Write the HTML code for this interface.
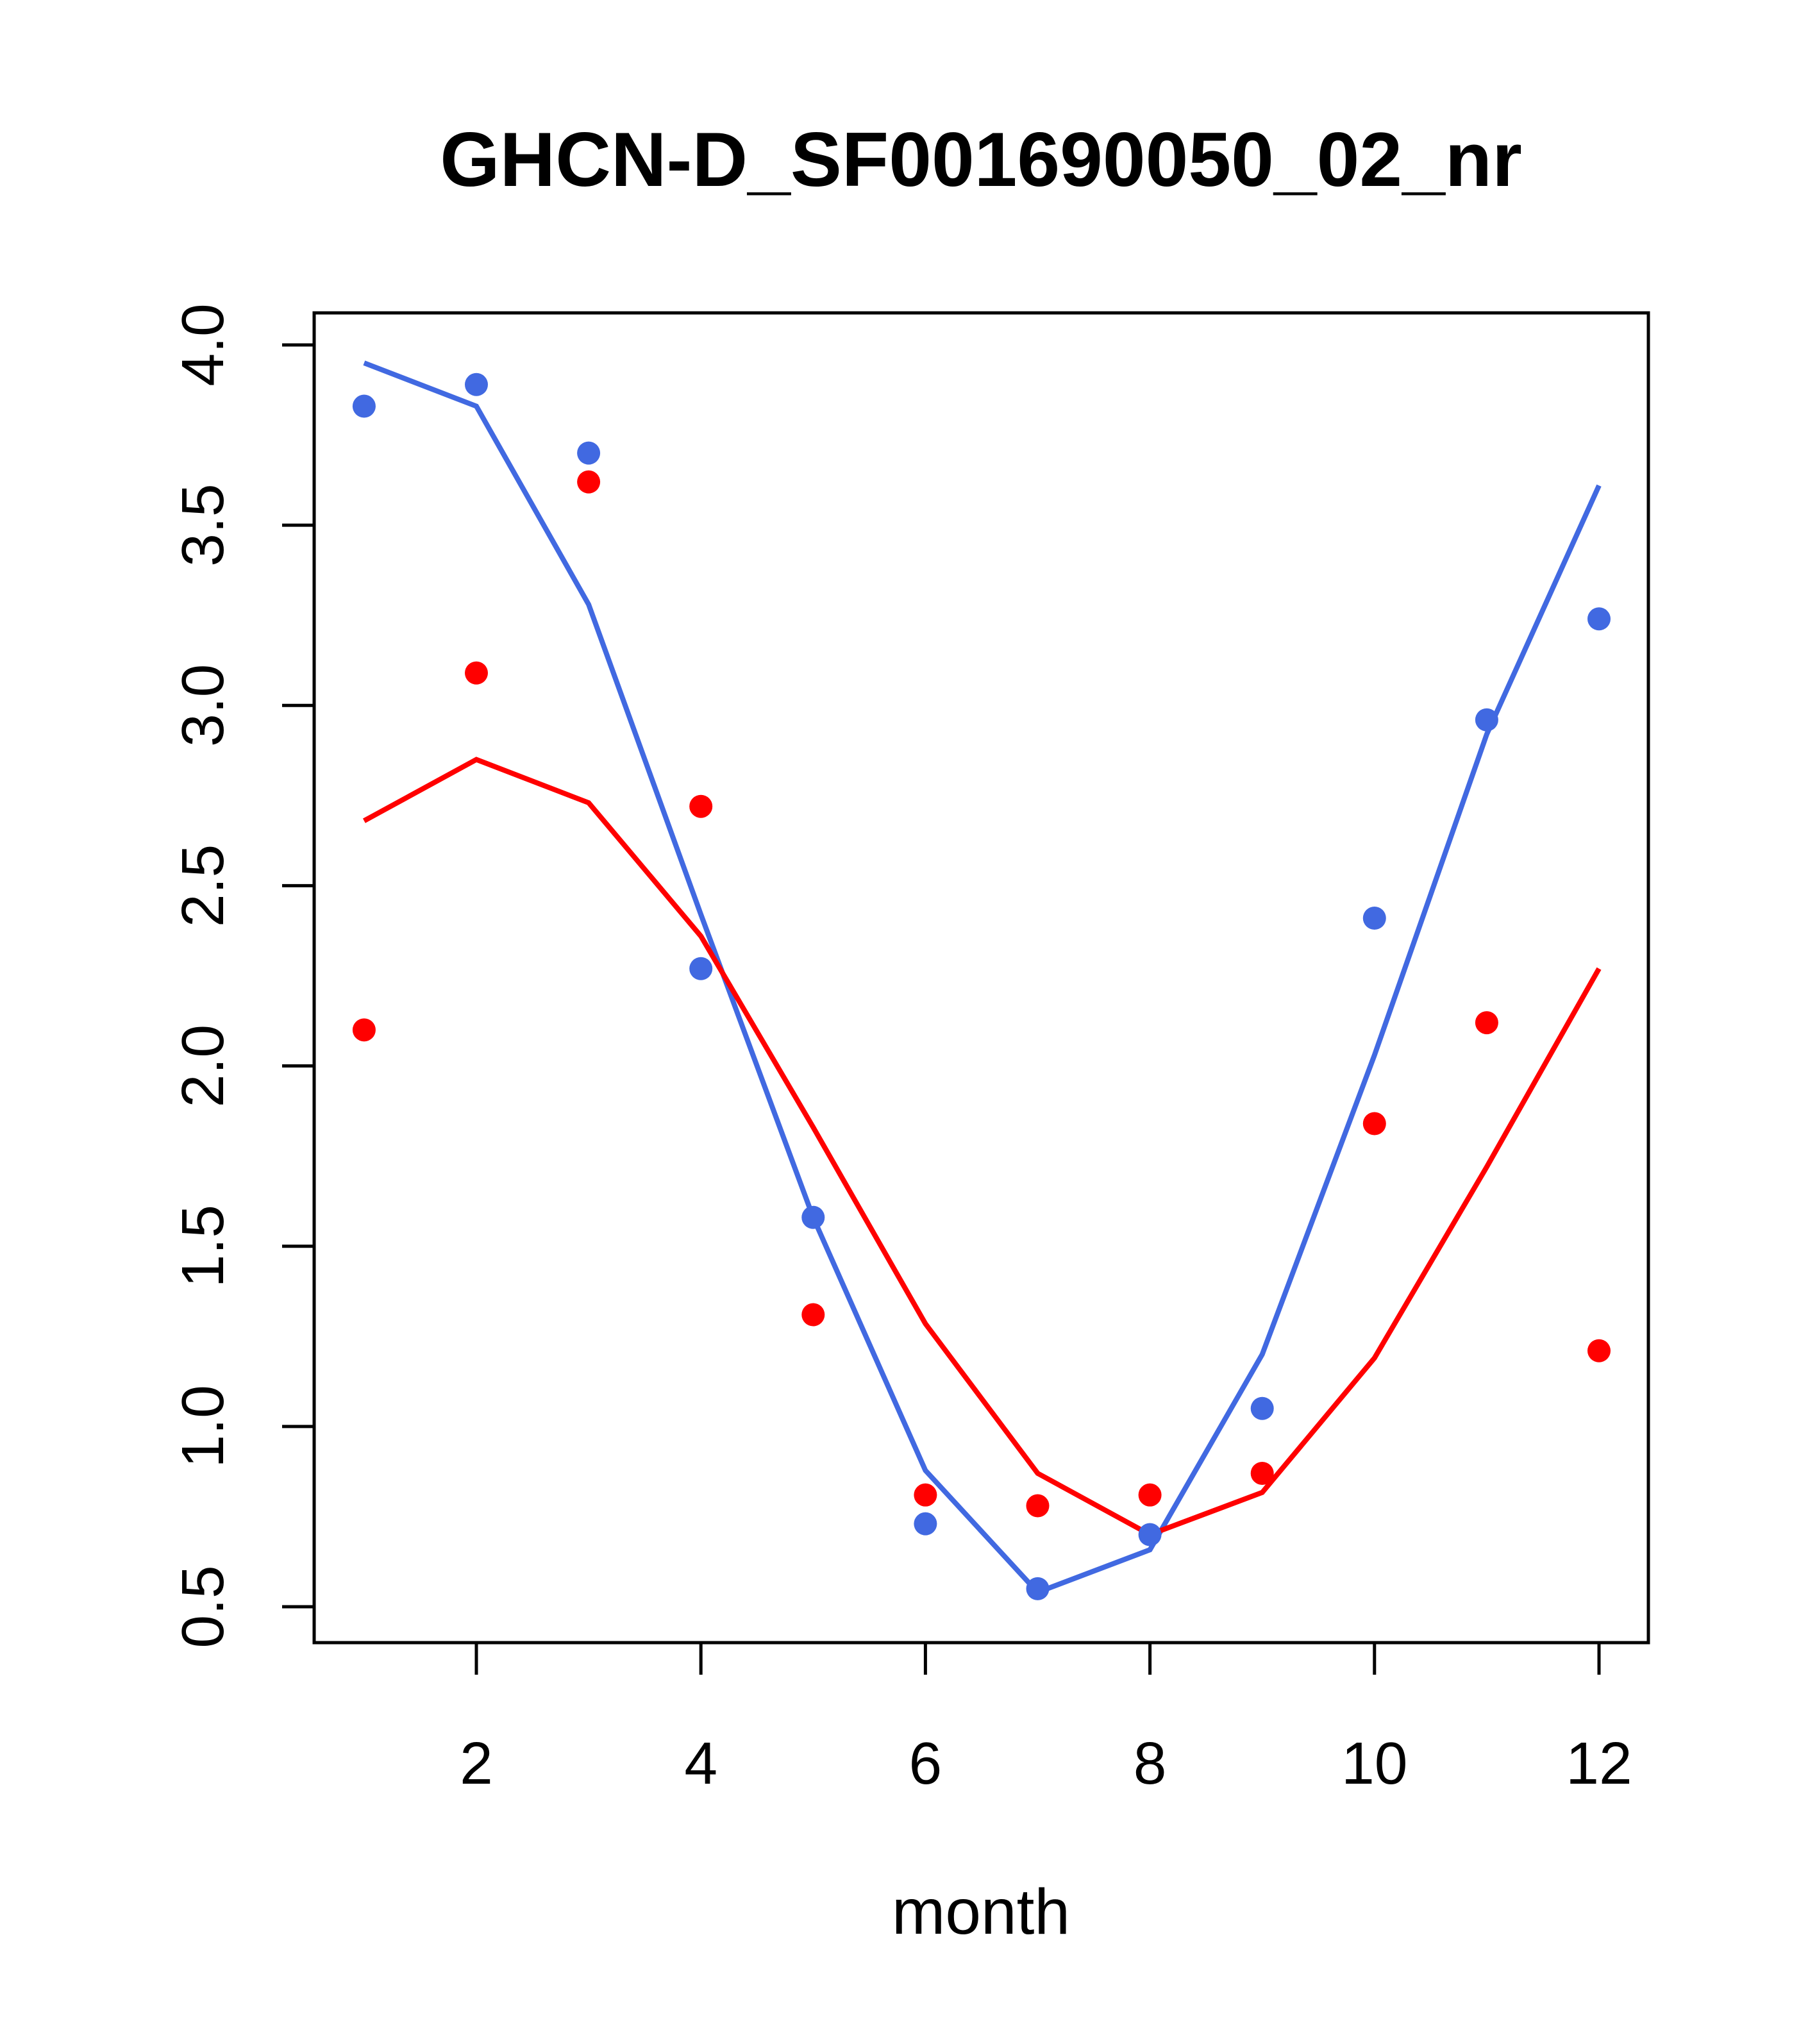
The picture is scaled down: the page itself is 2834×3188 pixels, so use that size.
<!DOCTYPE html>
<html><head><meta charset="utf-8"><style>html,body{margin:0;padding:0;background:#fff}svg{display:block}</style></head>
<body>
<svg id="chart" width="2834" height="3188" xmlns="http://www.w3.org/2000/svg" font-family="Liberation Sans, sans-serif">
<rect width="2834" height="3188" fill="#fff"/>
<text x="1530" y="290" font-size="120" font-weight="bold" text-anchor="middle">GHCN-D_SF001690050_02_nr</text>
<rect x="490" y="488" width="2081" height="2074" fill="none" stroke="#000" stroke-width="5"/>
<text x="1530" y="3016" font-size="100" text-anchor="middle">month</text>
<g id="axes"></g>
<g id="marks"></g>
</svg>
<script>
const months=[1,2,3,4,5,6,7,8,9,10,11,12];
const bluePoints=[3.83,3.89,3.70,2.27,1.58,0.73,0.55,0.70,1.05,2.41,2.96,3.24];
const redPoints=[2.10,3.09,3.62,2.72,1.31,0.81,0.78,0.81,0.87,1.84,2.12,1.21];
const blueLine=[3.95,3.83,3.28,2.42,1.58,0.878,0.54,0.658,1.20,2.03,2.92,3.61];
const redLine=[2.68,2.85,2.73,2.36,1.83,1.285,0.87,0.70,0.817,1.19,1.72,2.27];
const xTicks=[2,4,6,8,10,12];
const yTicks=["0.5","1.0","1.5","2.0","2.5","3.0","3.5","4.0"];
const NS="http://www.w3.org/2000/svg";
function X(v){return 743+(v-2)*175.1;}
function Y(v){return 2506-(v-0.5)*562.3;}
function mk(t,a,p){const e=document.createElementNS(NS,t);for(const k in a)e.setAttribute(k,a[k]);p.appendChild(e);return e;}
const axes=document.getElementById('axes'),marks=document.getElementById('marks');
xTicks.forEach(v=>{
 const l=mk('line',{x1:X(v),x2:X(v),y1:2562,y2:2612,stroke:'#000','stroke-width':5},axes);
 
 
 const t=mk('text',{x:X(v),y:2782,'font-size':93,'text-anchor':'middle'},axes);t.textContent=v;
 
 
});
yTicks.forEach(s=>{
 const v=parseFloat(s);
 const l=mk('line',{x1:440,x2:490,y1:Y(v),y2:Y(v),stroke:'#000','stroke-width':5},axes);
 
 
 const t=mk('text',{x:0,y:0,'font-size':93,'text-anchor':'middle',transform:`translate(348,${Y(v)}) rotate(-90)`},axes);t.textContent=s;
 
 
});
function line(vals,color,name){
 const p=mk('polyline',{points:vals.map((v,i)=>X(months[i])+','+Y(v)).join(' '),fill:'none',stroke:color,'stroke-width':8},marks);
 
 
}
function pts(vals,color,name){
 vals.forEach((v,i)=>{
  const c=mk('circle',{cx:X(months[i]),cy:Y(v),r:18,fill:color},marks);
  
  
 });
}
line(blueLine,'#4169E1','blue-fit-line');
line(redLine,'#FF0000','red-fit-line');
pts(bluePoints,'#4169E1','blue-point');
pts(redPoints,'#FF0000','red-point');
</script>
</body></html>
